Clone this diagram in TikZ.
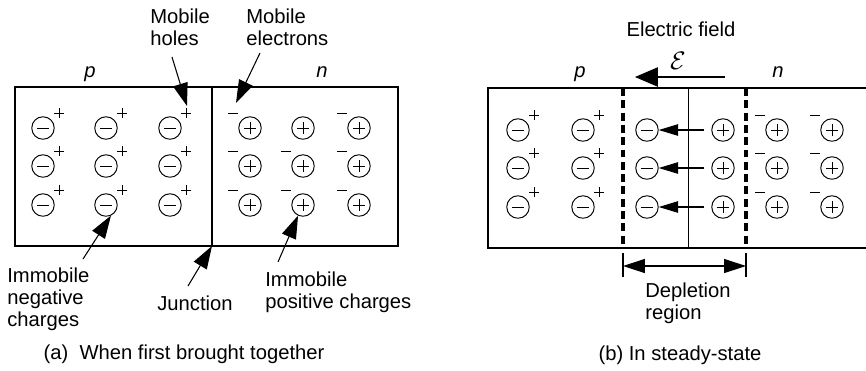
\documentclass[tikz,border=0pt]{standalone}
\usepackage{fontspec}
\setmainfont{Liberation Sans}
\usetikzlibrary{arrows.meta}
\newcommand\holeat[1]{\draw[sgn] ([shift={(11,-15)}]#1.center) -- ++(10,0) ([shift={(16,-20)}]#1.center) -- ++(0,10);}
\newcommand\elecat[1]{\draw[sgn] ([shift={(-22,-15)}]#1.center) -- ++(10,0);}
\begin{document}
\begin{tikzpicture}[x=0.02cm,y=-0.02cm, font=\fontsize{11.5}{12.8}\selectfont,
  ionbase/.style={circle,draw,line width=0.55pt,minimum size=12.8pt,inner sep=0pt},
  negion/.style={ionbase,path picture={\draw[line width=0.45pt] ([xshift=-3.5pt]path picture bounding box.center) -- ([xshift=3.5pt]path picture bounding box.center);}},
  posion/.style={ionbase,path picture={\draw[line width=0.45pt] ([xshift=-3.5pt]path picture bounding box.center) -- ([xshift=3.5pt]path picture bounding box.center) ([yshift=-3.5pt]path picture bounding box.center) -- ([yshift=3.5pt]path picture bounding box.center);}},
  sgn/.style={line width=0.45pt},
  frame/.style={line width=0.7pt},
  lbl/.style={align=left,inner sep=0pt,anchor=north west},
  bigarrow/.style={-{Triangle[length=13pt,width=8.5pt]},line width=0.6pt},
  fieldarrow/.style={-{Triangle[length=13pt,width=11pt]},line width=0.6pt},
  smallarrow/.style={-{Triangle[length=11pt,width=6.5pt]},line width=0.6pt},
  deplarrow/.style={{Triangle[length=12.5pt,width=8pt]}-{Triangle[length=12.5pt,width=8pt]},line width=0.6pt},
  bound/.style={line width=2pt,dash pattern=on 4.5pt off 2.5pt}]
\useasboundingbox (0,0) rectangle (866,370);

% ---------------- (a) ----------------
\draw[frame] (15,87) rectangle (398,246);
\coordinate (ljt) at (212,87);
\coordinate (ljb) at (212,246);
\draw[frame] (ljt) -- (ljb);

\foreach \c/\x in {1/43,2/106,3/170} {
  \foreach \r/\y in {1/128,2/166,3/205} {
    \node[negion] (la\c\r) at (\x,\y) {};
    \holeat{la\c\r}
  }
}
\foreach \c/\x in {1/250,2/303,3/359} {
  \foreach \r/\y in {1/128,2/166,3/205} {
    \node[posion] (lb\c\r) at (\x,\y) {};
  }
}
\foreach \nm in {lb11,lb31,lb12,lb22,lb32,lb13,lb23,lb33} {\elecat{\nm}}

\node[anchor=base] (lp) at (90,77) {\itshape p};
\node[anchor=base] (ln) at (322,77) {\itshape n};

\node[lbl] (mh) at (150,8) {Mobile\\holes};
\node[lbl] (me) at (246,8) {Mobile\\electrons};
\coordinate (mhs) at (172,57);
\coordinate (mht) at (187,106);
\draw[bigarrow] (mhs) -- (mht);
\coordinate (mes) at (260,53);
\coordinate (met) at (236,103);
\draw[bigarrow] (mes) -- (met);

\node[lbl] (imn) at (7,267) {Immobile\\negative\\charges};
\coordinate (imns) at (83,259);
\draw[bigarrow] (imns) -- (la23.-65);
\node[lbl] (jn) at (157,295) {Junction};
\coordinate (jns) at (188,286);
\draw[bigarrow] (jns) -- (ljb);
\node[lbl] (imp) at (265,271) {Immobile\\positive charges};
\coordinate (imps) at (278,262);
\draw[bigarrow] (imps) -- (lb23.-115);

\node (capa) at (184,354) {(a)\ \ When first brought together};

% ---------------- (b) ----------------
\draw[frame] (866,88) -- (488,88) -- (488,248) -- (866,248);
\coordinate (rjt) at (688,88);
\coordinate (rjb) at (688,248);
\draw[line width=0.5pt] (rjt) -- (rjb);
\coordinate (dlt) at (623,88);
\coordinate (dlb) at (623,247);
\coordinate (drt) at (746,88);
\coordinate (drb) at (746,247);
\draw[bound] (dlt) -- (dlb);
\draw[bound] (drt) -- (drb);

\foreach \c/\x in {1/518,2/583,3/647} {
  \foreach \r/\y in {1/130,2/168,3/207} {
    \node[negion] (ra\c\r) at (\x,\y) {};
  }
}
\foreach \c/\x in {1/723,2/777,3/832} {
  \foreach \r/\y in {1/130,2/168,3/207} {
    \node[posion] (rb\c\r) at (\x,\y) {};
  }
}
\foreach \nm in {ra11,ra12,ra13,ra21,ra22,ra23} {\holeat{\nm}}
\foreach \nm in {rb21,rb22,rb23,rb31,rb32,rb33} {\elecat{\nm}}
\foreach \r in {1,2,3} {\draw[smallarrow,shorten <=4pt] (rb1\r) -- (ra3\r);}

\node[anchor=base] (rp) at (580,77) {\itshape p};
\node[anchor=base] (rn) at (778,77) {\itshape n};
\node (ef) at (681,29) {Electric field};
\node (eps) at (678,61) {\fontsize{14}{14}\selectfont$\mathcal{E}$};
\coordinate (efs) at (725,77);
\coordinate (eft) at (635,77);
\draw[fieldarrow] (efs) -- (eft);

\coordinate (dpl) at (623,266);
\coordinate (dpr) at (746,266);
\draw[line width=0.6pt] (623,253) -- (623,277) (746,253) -- (746,277);
\draw[deplarrow] (dpl) -- (dpr);
\node[lbl] (dep) at (645,282) {Depletion\\region};

\node (capb) at (680,355) {(b) In steady-state};
\end{tikzpicture}
\end{document}
